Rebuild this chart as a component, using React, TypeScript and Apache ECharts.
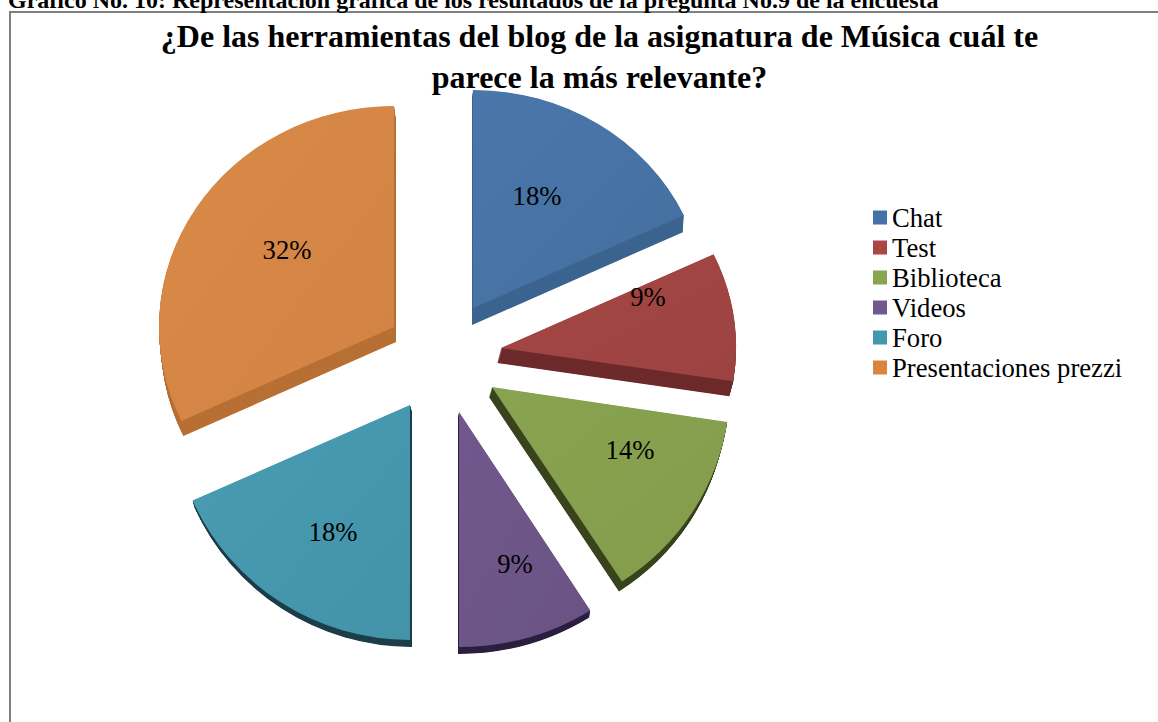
import React, { useEffect, useRef } from "react";
import * as echarts from "echarts";

const categories = ["Chat", "Test", "Biblioteca", "Videos", "Foro", "Presentaciones prezzi"];
const values = [18, 9, 14, 9, 18, 32];
const headerText = "Gráfico No. 10: Representación gráfica de los resultados de la pregunta No.9 de la encuesta";
const titleText = "¿De las herramientas del blog de la asignatura de Música cuál te\nparece la más relevante?";

const legendColors = ["#4572A7", "#AA4643", "#89A54E", "#71588F", "#4198AF", "#DB843D"];
const faceLight = ["#4A76AB", "#A54745", "#89A450", "#70588C", "#489CB2", "#D98948"];
const faceDark = ["#44709F", "#9C4341", "#829C4C", "#6A5384", "#4393A9", "#D28242"];
const rimColors = ["#3D6590", "#6E2B2B", "#3A451F", "#2C2040", "#1D3F4B", "#B87035"];

// exploded-slice layout: centre of each top face, its radii, extrusion and label shift
const centres = [[473, 308], [501, 348], [492, 387], [459, 412], [410, 405], [394, 327]];
const radiiX = [233, 235, 238, 245, 238, 235];
const radiiY = [218, 220, 232, 235, 235, 221];
const depths = [[-1, 17], [-4, 15], [-3, 10], [-1, 7], [2, 7], [2, 15]];
const labelShift = [[64, -112], [147, -51], [138, 63], [56, 152], [-77, 127], [-107, -77]];
// perspective correction of the slice edges, in degrees
const startTilt = [0, 0, 1.5, 0, 0, 0];
const endTilt = [0, 1.5, -0.7, 0, 1.2, 0];

const total = values.reduce((a, b) => a + b, 0);
const startShares = values.map((_, i) => values.slice(0, i).reduce((a, b) => a + b, 0) / total);
const DEG = Math.PI / 180;

function sliceItem(i: number) {
  return () => {
    const base = -Math.PI / 2 + startShares[i] * Math.PI * 2;
    const start = base + startTilt[i] * DEG;
    const end = base + (values[i] / total) * Math.PI * 2 + endTilt[i] * DEG;
    const [cx, cy] = centres[i];
    const rx = radiiX[i];
    const scaleY = radiiY[i] / rx;
    const [dx, dy] = depths[i];
    const shape = { cx: 0, cy: 0, r: rx, r0: 0, startAngle: start, endAngle: end, clockwise: true };
    const steps = Math.max(Math.abs(dx), Math.abs(dy)) * 2;
    const children: any[] = [];
    for (let k = steps; k >= 1; k--) {
      children.push({
        type: "sector",
        x: cx + (dx * k) / steps,
        y: cy + (dy * k) / steps,
        scaleY,
        shape,
        style: { fill: rimColors[i] },
        silent: true,
      });
    }
    children.push({
      type: "sector",
      x: cx,
      y: cy,
      scaleY,
      shape,
      style: {
        fill: new echarts.graphic.LinearGradient(0, 0, 1, 1, [
          { offset: 0, color: faceLight[i] },
          { offset: 1, color: faceDark[i] },
        ]),
      },
      silent: true,
    });
    children.push({
      type: "text",
      x: cx + labelShift[i][0],
      y: cy + labelShift[i][1],
      style: {
        text: `${Math.round((values[i] / total) * 100)}%`,
        fill: "#000",
        font: "26.67px 'Liberation Serif'",
        align: "center",
        verticalAlign: "middle",
      },
      silent: true,
    });
    return { type: "group", children };
  };
}

export default function App() {
  const ref = useRef<HTMLDivElement>(null);
  useEffect(() => {
    const chart = echarts.init(ref.current!, null, { renderer: "svg" });
    chart.setOption({
      animation: false,
      backgroundColor: "#fff",
      title: {
        text: titleText,
        left: 594.5,
        top: 10,
        textAlign: "center",
        textStyle: {
          fontFamily: "Liberation Serif",
          fontWeight: "bold",
          fontSize: 32,
          lineHeight: 41,
          color: "#000",
        },
      },
      legend: {
        orient: "vertical",
        left: 868,
        top: 199,
        itemWidth: 14,
        itemHeight: 14,
        itemGap: 3,
        selectedMode: false,
        data: categories.map((name, i) => ({ name, icon: "rect", itemStyle: { color: legendColors[i] } })),
        textStyle: { fontFamily: "Liberation Serif", fontSize: 26.67, lineHeight: 24, color: "#000" },
      },
      graphic: [
        { type: "rect", shape: { x: 9, y: 11, width: 1149, height: 2 }, style: { fill: "#808080" }, silent: true },
        { type: "rect", shape: { x: 9, y: 11, width: 2, height: 711 }, style: { fill: "#808080" }, silent: true },
        {
          type: "text",
          x: 8,
          y: -12.5,
          style: { text: headerText, fill: "#000", font: "bold 24px 'Liberation Serif'" },
          silent: true,
        },
      ],
      series: categories.map((name, i) => ({
        type: "custom",
        name,
        coordinateSystem: "none",
        itemStyle: { color: legendColors[i] },
        data: [values[i]],
        renderItem: sliceItem(i),
        silent: true,
      })),
    });
    return () => chart.dispose();
  }, []);
  return <div ref={ref} style={{ position: "fixed", left: 0, top: 0, width: 1158, height: 722 }} />;
}
